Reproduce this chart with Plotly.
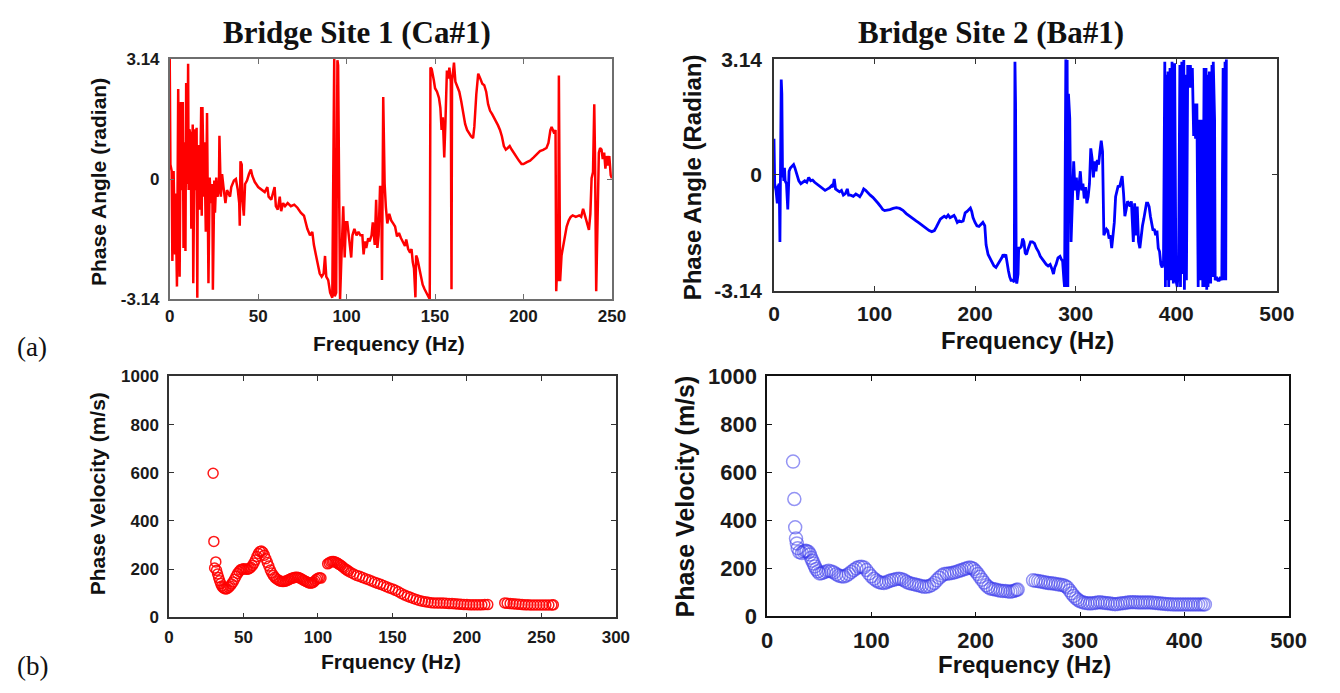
import plotly.graph_objects as go

W, H = 1340, 693

# ---------------- Bridge Site 1 (Ca#1): phase angle vs frequency ----------------
site1_freq = [
    0, 0.4, 1.1, 1.5, 2.2, 3.0, 3.3, 4.1, 4.8, 5.2, 5.6, 6.3, 6.7, 7.4, 7.8, 8.5, 8.9, 9.3, 10.0, 10.4,
    10.7, 11.1, 11.9, 12.2, 13.0, 13.3, 14.1, 14.4, 15.2, 15.6, 15.9, 16.7, 17.0, 17.8, 18.1, 18.5, 19.3, 19.6,
    20.4, 21.1, 21.5, 21.9, 22.6, 23.3, 24.1, 24.4, 25.2, 25.6, 26.3, 27.0, 27.8, 28.1, 28.9, 29.6, 30.4, 31.1,
    31.5, 32.4, 33.3, 34.1, 34.8, 35.6, 36.3, 37.4, 38.5, 39.3, 39.6, 40.0, 40.7, 41.1, 41.9, 42.6, 43.7, 44.8,
    45.9, 46.7, 48.1, 50.0, 51.9, 53.7, 55.2, 55.9, 57.4, 58.5, 59.3, 60.0, 61.1, 62.2, 63.0, 64.1, 65.2, 66.7,
    68.5, 70.4, 72.2, 74.1, 75.9, 77.8, 79.3, 80.6, 81.5, 82.6, 83.7, 84.8, 85.9, 87.0, 87.8, 88.5, 89.6, 90.7,
    91.9, 93.0, 93.3, 94.1, 94.8, 95.2, 95.9, 96.3, 97.0, 97.4, 98.1, 98.9, 99.6, 100.4, 101.1, 101.9, 102.6,
    103.3, 104.4, 105.6, 106.7, 107.8, 108.9, 109.6, 110.4, 111.1, 112.2, 113.0, 114.1, 114.8, 115.9, 116.7,
    117.4, 118.1, 118.9, 119.6, 120.0, 120.7, 121.5, 122.2, 123.0, 124.1, 125.2, 126.3, 127.4, 128.5, 129.6,
    130.7, 131.9, 133.0, 133.7, 134.8, 135.9, 136.7, 137.4, 138.1, 138.9, 139.3, 140.0, 140.7, 141.9, 143.0,
    144.1, 145.2, 146.3, 147.0, 147.4, 148.1, 149.3, 150.0, 151.1, 152.2, 153.0, 153.7, 154.4, 155.2, 155.9,
    156.7, 157.4, 158.1, 158.9, 159.3, 159.6, 160.4, 160.7, 161.5, 162.6, 163.7, 164.8, 165.9, 167.0, 168.1,
    169.3, 170.4, 171.5, 172.2, 173.3, 174.4, 175.6, 176.7, 177.8, 178.9, 180.0, 181.1, 182.2, 183.3, 184.4,
    185.6, 186.7, 187.8, 188.9, 190.0, 191.1, 192.2, 193.3, 194.4, 195.9, 197.4, 198.9, 200.0, 201.9, 203.7,
    205.6, 207.4, 209.3, 211.1, 213.0, 214.1, 215.2, 215.9, 216.7, 217.4, 218.1, 218.5, 219.3, 219.6, 220.0,
    220.4, 220.7, 221.5, 222.2, 223.3, 224.4, 225.6, 226.7, 227.8, 229.6, 231.5, 232.6, 233.7, 234.8, 235.9,
    237.0, 237.8, 238.5, 239.3, 240.0, 240.4, 240.7, 241.1, 241.9, 242.6, 243.3, 244.1, 244.8, 245.6, 246.3,
    247.0, 247.8, 248.5, 249.3, 250.0,
]
site1_phase = [
    3.14, 0.38, 0.21, -2.14, 0.21, -1.97, -0.38, -2.81, 2.35, -0.13, -2.55, 2.01, -0.29, 2.01, -1.80, 0.96, -1.88, 2.51, -0.13, 3.01,
    -0.29, 1.30, 1.13, -1.30, 1.42, -2.72, 1.30, -0.29, 1.34, -3.10, 0.71, 0.88, -0.80, 1.88, -0.96, 1.88, -0.46, 0.96,
    -1.38, 1.72, -0.96, -2.72, 0.04, -0.63, -0.13, -2.89, -0.04, -0.88, 0.04, -0.46, -0.29, 1.13, -0.46, 0.13, -0.21, -0.46,
    -0.63, -0.29, -0.38, -0.46, -0.21, -0.13, -0.04, 0.00, -0.29, -0.63, -1.22, 0.46, 0.38, -0.54, -0.96, -0.13, -0.04, 0.13,
    0.25, 0.08, -0.08, -0.21, -0.29, -0.34, -0.21, -0.46, -0.54, -0.38, -0.21, -0.71, -0.80, -0.46, -0.84, -0.63, -0.71, -0.63,
    -0.71, -0.67, -0.75, -0.88, -0.96, -1.30, -1.47, -1.38, -1.72, -1.97, -2.22, -2.47, -2.55, -2.47, -2.01, -2.55, -2.64, -2.97,
    -3.10, 3.14, -3.06, -2.97, 3.10, 2.97, -0.96, -3.14, -2.14, -1.63, -0.71, -2.05, -1.13, -1.13, -1.47, -1.80, -2.05,
    -1.47, -1.30, -1.47, -1.38, -1.47, -1.47, -1.97, -1.63, -1.80, -1.55, -1.63, -1.47, -1.13, -1.72, -0.54,
    -1.80, -1.47, -0.21, -0.21, -2.64, 2.14, -0.13, -0.74, -1.16, -0.91, -1.08, -1.16, -1.24, -1.50, -1.41,
    -1.54, -1.66, -1.75, -1.58, -1.83, -1.92, -1.83, -2.17, -2.34, -3.09, -2.00, -2.08, -2.25, -2.50, -2.76,
    -2.88, -2.97, -3.09, -3.14, 2.91, 2.87, 2.58, 2.37, 2.28, 2.12, 1.86, 1.28, 1.61, 0.56, 1.53,
    2.83, 2.62, 2.91, 2.54, -2.88, 2.54, 2.96, 3.04, 2.54, 2.41, 2.28, 2.03, 1.70, 1.44, 1.28,
    1.19, 1.11, 1.07, 1.36, 2.20, 2.75, 2.62, 2.49, 2.45, 2.28, 1.95, 1.78, 1.70, 1.61, 1.53,
    1.40, 1.28, 1.11, 0.86, 0.77, 0.81, 0.86, 0.77, 0.69, 0.56, 0.48, 0.39, 0.39, 0.44, 0.48,
    0.56, 0.65, 0.73, 0.76, 0.81, 0.94, 1.28, 1.36, 1.28, 1.19, 1.28, -2.93, -1.92, -2.67, 2.70,
    -2.25, -2.67, -2.00, -1.83, -1.58, -1.24, -1.08, -0.99, -0.95, -0.99, -0.95, -0.99, -0.78, -0.99, -1.16,
    -1.33, -0.91, 0.02, 0.18, 1.95, 0.69, -1.16, -2.93, -0.99, 0.69, 0.81, 0.77, 0.52, 0.69, 0.27,
    0.60, 0.35, 0.60, 0.10, 0.02,
]

# ---------------- Bridge Site 2 (Ba#1): phase angle vs frequency ----------------
site2_freq = [
    0, 0.7, 2.0, 3.3, 3.9, 5.2, 5.9, 6.5, 7.2, 7.8, 8.5, 9.1, 9.8, 10.4, 11.1, 12.4, 13.7, 15.0, 16.3, 17.6,
    19.5, 20.8, 22.8, 24.7, 26.7, 28.6, 30.6, 32.6, 34.5, 36.5, 38.4, 40.4, 42.3, 44.3, 46.9, 48.8, 50.8, 53.4,
    55.3, 57.3, 58.6, 59.9, 61.2, 63.1, 65.1, 67.1, 69.0, 71.0, 72.9, 74.2, 76.2, 78.8, 81.4, 83.3, 85.3, 87.2,
    89.2, 91.1, 93.1, 95.7, 98.3, 100.9, 103.5, 106.1, 108.1, 110.0, 112.6, 115.2, 118.5, 121.7, 125.0, 128.2,
    131.5, 134.8, 138.0, 141.3, 144.5, 147.8, 151.0, 154.3, 156.9, 159.5, 161.4, 163.4, 165.4, 167.3, 169.3,
    171.2, 173.2, 175.1, 177.1, 179.0, 180.3, 182.3, 184.2, 186.2, 188.1, 190.1, 192.0, 194.0, 195.3, 196.6,
    197.9, 199.9, 201.8, 203.8, 205.7, 207.7, 209.6, 210.9, 212.9, 214.8, 216.8, 218.7, 220.7, 222.6, 224.6,
    226.5, 227.9, 229.2, 230.5, 231.8, 233.1, 234.4, 235.7, 237.6, 238.9, 239.6, 240.2, 240.9, 241.4, 242.7,
    243.3, 244.6, 245.9, 247.2, 248.5, 249.8, 251.1, 252.4, 253.8, 255.1, 257.0, 259.0, 260.9, 262.9, 264.8,
    266.8, 268.7, 270.7, 272.6, 274.6, 276.5, 277.9, 279.2, 280.5, 282.4, 284.4, 285.7, 287.0, 288.3, 288.9,
    290.2, 290.9, 291.5, 292.2, 292.8, 294.1, 295.4, 296.7, 298.0, 299.3, 300.7, 302.0, 303.3, 304.6, 305.9,
    307.2, 308.5, 309.8, 311.1, 312.4, 313.7, 315.0, 316.3, 317.6, 318.9, 320.2, 321.5, 322.8, 324.1, 325.4,
    326.7, 328.0, 329.3, 330.6, 331.9, 333.2, 334.5, 335.8, 337.1, 338.4, 339.7, 341.0, 342.3, 343.6, 344.9,
    346.2, 347.6, 348.9, 350.2, 351.5, 352.8, 354.1, 355.4, 356.7, 357.3, 358.6, 359.9, 361.2, 362.5, 363.8,
    365.1, 366.4, 367.7, 369.0, 370.4, 371.7, 373.0, 374.3, 375.6, 376.9, 378.2, 379.5, 380.8, 382.1, 383.4,
    384.7, 386.0, 387.3, 388.6, 389.2, 389.9, 390.5, 391.8, 392.5, 393.8, 394.5, 395.8, 397.1, 398.4, 399.7,
    401.0, 402.3, 403.6, 404.2, 405.5, 406.8, 407.5, 408.1, 409.4, 410.1, 411.4, 412.7, 414.0, 415.3, 416.0,
    417.3, 418.6, 419.2, 420.5, 421.8, 422.5, 423.8, 425.1, 426.4, 427.7, 429.0, 429.6, 430.3, 430.9, 431.6,
    432.9, 434.2, 435.5, 436.1, 436.8, 438.1, 438.7, 440.1, 441.4, 442.7, 444.0, 445.3, 446.6, 447.9, 448.5,
    449.2, 449.8,
]
site2_phase = [
    0.98, -0.24, -0.42, -0.77, -0.33, -0.24, -1.82, 0.28, 2.59, 2.20, -0.07, 0.19, -0.16, 0.19, -0.16, -0.24, -0.94, 0.10, 0.19, 0.24,
    0.28, 0.19, 0.02, -0.16, -0.24, -0.20, -0.16, -0.20, -0.07, -0.16, -0.14, -0.20, -0.24, -0.29, -0.33, -0.38, -0.42, -0.38,
    -0.35, -0.29, -0.33, -0.11, -0.38, -0.42, -0.46, -0.42, -0.55, -0.51, -0.38, -0.55, -0.55, -0.58, -0.52, -0.55, -0.59, -0.51,
    -0.38, -0.42, -0.49, -0.55, -0.61, -0.68, -0.77, -0.86, -0.94, -0.97, -0.96, -0.94, -0.91, -0.89, -0.91, -0.96,
    -1.05, -1.12, -1.20, -1.25, -1.31, -1.38, -1.45, -1.51, -1.54, -1.51, -1.42, -1.29, -1.20, -1.16, -1.12,
    -1.16, -1.09, -1.16, -1.12, -1.10, -1.16, -1.29, -1.25, -1.27, -1.25, -1.03, -0.99, -0.94, -0.90, -0.99,
    -1.16, -1.29, -1.38, -1.40, -1.34, -1.29, -1.38, -1.90, -2.16, -2.25, -2.38, -2.47, -2.51, -2.43, -2.34,
    -2.25, -2.16, -2.23, -2.16, -2.43, -2.60, -2.77, -2.86, -2.86, -2.91, 3.07, 1.94, -2.86, -2.95, -2.69,
    -1.99, -1.99, -1.95, -1.73, -1.82, -2.12, -2.16, -2.03, -1.90, -1.82, -1.82, -1.86, -1.99, -2.08, -2.21,
    -2.29, -2.38, -2.43, -2.47, -2.43, -2.56, -2.69, -2.51, -2.43, -2.25, -2.21, -2.29, -2.34, -2.86, -3.04,
    3.14, -3.04, 3.12, -3.04, 2.20, 1.54, -1.82, -0.68, 0.37, -0.42, -0.07, -0.68, -0.16, 0.10, -0.42,
    -0.24, -0.64, -0.33, -0.77, -0.59, -0.24, 0.72, 0.45, -0.07, 0.37, 0.10, 0.41, 0.28, 0.63, 0.93,
    0.63, -1.64, -1.55, -1.47, -1.51, -1.73, -1.64, -1.99, -1.64, -1.29, -0.59, -0.42, -0.29, -0.33, -0.16,
    -0.03, -0.51, -1.12, -0.94, -0.72, -0.77, -0.86, -0.72, -1.29, -1.82, -0.77, -1.64, -0.86, -1.82, -1.99,
    -1.64, -1.38, -1.20, -0.94, -0.77, -0.77, -0.86, -1.12, -1.29, -1.51, -1.47, -1.64, -1.51, -1.99, -2.08,
    -2.43, -2.51, -2.34, 3.07, -3.04, 2.72, -2.86, 2.81, -3.04, 2.90, -2.86, 3.07, -2.95, 3.03, -2.86,
    -3.04, -2.43, 2.98, -3.04, 3.07, -2.69, 3.12, -3.12, 2.72, -2.86, 2.98, 2.37, 2.98, 2.37, 2.90,
    1.06, 1.94, 0.98, 1.94, -3.04, 1.50, -2.86, 1.50, -3.04, 2.90, -3.04, 2.90, -3.12, 2.72, -3.04,
    2.81, -2.95, 2.98, -2.77, 3.07, 1.50, -2.86, -2.77, -2.86, -2.86, -2.77, -2.86, 2.90, -2.86, 3.07,
    -2.86, 3.14,
]

# ---------------- Bridge Site 1: dispersion (phase velocity) ----------------
vel1_freq = [
    29.6, 30.1, 31.4, 30.6, 31.9, 32.6, 33.3, 34.0, 34.7, 35.4, 36.2, 37.0, 38.0, 39.0, 40.0, 41.0, 42.0, 43.0,
    44.0, 45.0, 46.0, 47.0, 48.0, 49.0, 50.0, 51.0, 52.0, 53.0, 54.0, 55.0, 56.0, 57.0, 58.0, 59.0, 60.0, 61.0,
    62.0, 63.0, 64.0, 65.0, 66.0, 67.0, 68.0, 69.0, 70.0, 71.0, 72.0, 73.0, 74.0, 75.0, 76.0, 77.0, 78.0, 79.0,
    80.0, 81.0, 82.0, 83.0, 84.0, 85.0, 86.0, 87.0, 88.0, 89.0, 90.0, 91.0, 92.0, 93.0, 94.0, 95.0, 96.0, 97.0,
    98.0, 99.0, 100.0, 101.0, 102.0,
    106.5, 107.5, 108.5, 109.5, 110.5, 111.5, 112.5, 113.5, 114.5, 115.5, 116.5, 117.5, 118.5, 119.5, 120.5,
    122, 124, 126, 128, 130, 132, 134, 136, 138, 140, 142, 144, 146, 148, 150, 152, 154, 156, 158, 160, 162,
    164, 166, 168, 170, 172, 174, 176, 178, 180, 182, 184, 186, 188, 190, 192, 194, 196, 198, 200, 202, 204,
    206, 208, 210, 212, 214,
    225.4, 227, 229, 231, 233, 235, 237, 239, 241, 243, 245, 247, 249, 251, 253, 255, 257, 258,
]
vel1_speed = [
    598, 315, 230, 205, 195, 180, 165, 152, 140, 130, 124, 120, 118, 119, 124, 130, 138, 147,
    158, 170, 182, 190, 197, 200, 202, 201, 200, 200, 203, 208, 215, 225, 238, 252, 265, 273,
    275, 270, 258, 243, 228, 213, 196, 184, 174, 166, 160, 156, 152, 150, 149, 149, 150, 152,
    155, 158, 161, 163, 165, 166, 166, 165, 162, 159, 155, 152, 149, 146, 143, 142, 143, 146,
    152, 158, 162, 164, 163,
    222, 226, 230, 232, 232, 230, 227, 223, 219, 215, 210, 205, 200, 196, 192,
    186, 180, 174, 170, 165, 160, 156, 151, 146, 141, 137, 132, 127, 122, 118, 112, 106, 99, 93, 88, 83,
    78, 74, 70, 67, 65, 63, 61, 60, 60, 59, 59, 58, 57, 57, 56, 55, 54, 53, 53, 52, 52,
    52, 52, 52, 53, 53,
    60, 58, 57, 56, 55, 54, 53, 52, 52, 51, 51, 51, 51, 51, 51, 51, 51, 52,
]

# ---------------- Bridge Site 2: dispersion (phase velocity) ----------------
vel2_freq = [
    24.9, 26.1, 26.9, 27.7, 28.5, 29.3, 30.9, 33.3, 35.0, 36.5, 38.0, 39.8, 41.0, 42.2, 43.4, 44.6, 45.8, 47.0,
    48.6, 50.2, 52.2, 54.2, 56.6, 59.0, 61.5, 63.9, 66.3, 68.7, 71.1, 73.5, 75.9, 78.3, 80.7, 83.1, 85.5, 88.0,
    90.4, 92.8, 95.2, 97.6, 100.0, 102.4, 104.8, 107.2, 109.6, 112.0, 114.5, 116.9, 119.3, 121.7, 124.1, 126.5,
    128.9, 131.3, 133.7, 136.1, 138.5, 141.0, 143.4, 145.8, 148.2, 150.6, 153.0, 155.4, 157.8, 160.2, 162.6,
    165.1, 167.5, 169.9, 172.3, 174.7, 177.1, 179.5, 181.9, 184.3, 186.7, 189.2, 191.6, 194.0, 196.0, 198.0,
    200.0, 202.0, 204.0, 206.0, 208.0, 210.0, 212.0, 214.1, 216.5, 218.9, 221.3, 223.7, 226.1, 228.5, 230.9,
    233.3, 235.3, 237.3, 239.0, 240.2,
    255.0, 257.4, 259.8, 262.2, 264.7, 267.1, 269.5, 271.9, 274.3, 276.7, 279.1, 281.5, 283.9, 285.9, 287.9,
    290.0, 292.0, 294.0, 296.0, 298.0, 300.0, 302.4, 304.8, 307.2, 309.6, 312.0, 314.5, 316.9, 319.3, 321.7,
    324.1, 326.5, 328.9, 331.3, 333.7, 336.1, 338.6, 341.0, 343.4, 345.8, 348.2, 350.6, 353.0, 355.4, 357.8,
    360.2, 362.6, 365.0, 367.5, 369.9, 372.3, 374.7, 377.1, 379.5, 381.9, 384.3, 386.7, 389.1, 391.6, 394.0,
    396.4, 398.8, 401.2, 403.6, 406.0, 408.4, 410.8, 413.3, 415.7, 418.0, 419.7,
]
vel2_speed = [
    645, 489, 371, 324, 304, 284, 268, 264, 270, 273, 272, 268, 258, 244, 232, 220, 208, 197,
    188, 179, 180, 183, 187, 190, 187, 183, 176, 170, 167, 166, 170, 177, 185, 193, 200, 206,
    207, 204, 193, 179, 167, 157, 149, 143, 140, 139, 142, 147, 150, 153, 156, 157,
    155, 150, 144, 139, 136, 134, 131, 129, 126, 123, 124, 126, 131, 139, 150,
    161, 170, 177, 178, 179, 181, 183, 186, 190, 193, 197, 200, 204, 202, 197,
    188, 177, 165, 153, 141, 130, 122, 116, 114, 112, 109, 107, 106, 106, 104,
    103, 105, 107, 110, 112,
    150, 148, 147, 145, 143, 141, 139, 138, 137, 135, 133, 132, 130, 126, 120,
    108, 96, 85, 76, 69, 63, 59, 56, 55, 54, 55, 56, 58, 59, 57,
    56, 55, 54, 52, 51, 52, 54, 55, 56, 58, 59, 59, 59, 58, 58,
    58, 58, 58, 58, 57, 56, 55, 54, 53, 52, 51, 51, 50, 50, 50,
    50, 50, 50, 50, 50, 50, 50, 50, 50, 50, 50,
]

PHASE_TICKS = [-3.14, 0, 3.14]
PHASE_TEXT = ["-3.14", "0", "3.14"]


def px_x(x):
    return x / W


def px_y(y):
    return 1 - y / H


fig = go.Figure()

fig.add_trace(go.Scatter(x=site1_freq, y=site1_phase, mode="lines",
                         line=dict(color="#ff0000", width=2.5), xaxis="x", yaxis="y"))
fig.add_trace(go.Scatter(x=site2_freq, y=site2_phase, mode="lines",
                         line=dict(color="#0000ff", width=2.8), xaxis="x2", yaxis="y2"))
fig.add_trace(go.Scatter(x=vel1_freq, y=vel1_speed, mode="markers",
                         marker=dict(symbol="circle-open", size=10, color="rgba(255,0,0,0.9)",
                                     line=dict(width=1.5)),
                         xaxis="x3", yaxis="y3"))
fig.add_trace(go.Scatter(x=vel2_freq, y=vel2_speed, mode="markers",
                         marker=dict(symbol="circle-open", size=13, color="rgba(60,60,235,0.55)",
                                     line=dict(width=1.5)),
                         xaxis="x4", yaxis="y4"))


def axis(domain, rng, color, size, **kw):
    return dict(domain=domain, range=rng, showline=True, linecolor=color, linewidth=1.5,
                mirror="ticks", ticks="inside", ticklen=5, tickwidth=1.3, tickcolor=color,
                showgrid=False, zeroline=False, fixedrange=True,
                tickfont=dict(family="Liberation Sans", size=size, color="#1a1a1a", weight="bold"),
                **kw)


# plot-area boxes in pixels: (left, right, top, bottom)
box_tl = (166.7, 617, 48.5, 298)
box_tr = (782, 1294, 49, 289)
box_bl = (166, 621, 378, 628)
box_br = (775, 1306, 378, 627)


def dom_x(b):
    return [px_x(b[0]), px_x(b[1])]


def dom_y(b):
    return [px_y(b[3]), px_y(b[2])]


fig.update_layout(
    width=W, height=H, margin=dict(l=0, r=0, t=0, b=0),
    paper_bgcolor="white", plot_bgcolor="white", showlegend=False,
    xaxis=axis(dom_x(box_tl), [0, 250], "#6e6e6e", 17, dtick=50, anchor="y", ticklabelstandoff=1),
    yaxis=axis(dom_y(box_tl), [-3.14, 3.14], "#6e6e6e", 17, tickvals=PHASE_TICKS, ticktext=PHASE_TEXT,
               anchor="x", ticklabelstandoff=5),
    xaxis2=axis(dom_x(box_tr), [0, 500], "#333333", 21, dtick=100, anchor="y2", ticklabelstandoff=3),
    yaxis2=axis(dom_y(box_tr), [-3.14, 3.14], "#333333", 21, tickvals=PHASE_TICKS, ticktext=PHASE_TEXT,
                anchor="x2", ticklabelstandoff=6),
    xaxis3=axis(dom_x(box_bl), [0, 300], "#333333", 17, dtick=50, anchor="y3", ticklabelstandoff=4),
    yaxis3=axis(dom_y(box_bl), [0, 1000], "#333333", 17, dtick=200, anchor="x3", ticklabelstandoff=5),
    xaxis4=axis(dom_x(box_br), [0, 500], "#111111", 22, dtick=100, anchor="y4", ticklabelstandoff=3),
    yaxis4=axis(dom_y(box_br), [0, 1000], "#111111", 22, dtick=200, anchor="x4", ticklabelstandoff=4),
)

SANS = "Liberation Sans"
SERIF = "Liberation Serif"


def label(text, x, y, size, family=SANS, angle=0, bold=True):
    fig.add_annotation(text=f"<b>{text}</b>" if bold else text, x=px_x(x), y=px_y(y),
                       xref="paper", yref="paper", showarrow=False, textangle=angle,
                       xanchor="center", yanchor="middle",
                       font=dict(family=family, size=size, color="#111111"))


# panel titles
label("Bridge Site 1 (Ca#1)", 357, 21, 31, SERIF)
label("Bridge Site 2 (Ba#1)", 1003, 21, 31, SERIF)
# row labels
label("(a)", 26, 348, 27, SERIF, bold=False)
label("(b)", 27, 678, 27, SERIF, bold=False)

# axis titles
label("Frequency (Hz)", 390, 344, 21)
label("Phase Angle (radian)", 94, 176, 21, angle=-90)
label("Frequency (Hz)", 1040, 341, 24)
label("Phase Angle (Radian)", 699, 171, 24, angle=-90)
label("Frquency (Hz)", 392, 674, 21)
label("Phase Velocity (m/s)", 94, 500, 21, angle=-90)
label("Frequency (Hz)", 1037, 677, 24)
label("Phase Velocity (m/s)", 691, 503, 25, angle=-90)

fig.write_html("out.html")
